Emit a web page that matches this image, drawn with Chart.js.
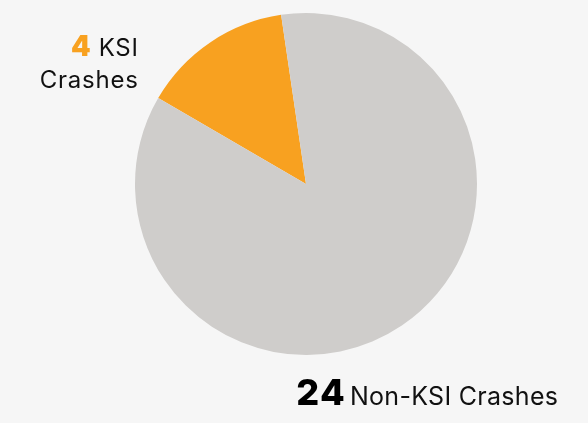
<!DOCTYPE html>
<html>
<head>
<meta charset="utf-8">
<script src="https://cdn.jsdelivr.net/npm/chart.js@4"></script>
<style>
  html, body { margin: 0; padding: 0; background: #f6f6f6; }
  #wrap { width: 588px; height: 423px; }
</style>
</head>
<body>
<div id="wrap"><canvas id="chart" width="588" height="423"></canvas></div>
<script>
// chart data
const categories = ['KSI Crashes', 'Non-KSI Crashes'];
const crashCounts = [4, 24];
const sliceColors = ['#f8a120', '#cfcdcb'];

// label pieces: bold number + regular text
const numberLabels = ['4', '24'];
const textLines = [['KSI', 'Crashes'], ['Non-KSI Crashes']];

const FONT = 'Inter, "Noto Sans", sans-serif';

// draws one piece of text right-aligned at x, returns its left edge
function putRight(ctx, str, x, y, font, color, spacing) {
  ctx.font = font;
  ctx.letterSpacing = spacing + 'px';
  const w = ctx.measureText(str).width - spacing;
  ctx.fillStyle = color;
  ctx.fillText(str, x - w, y);
  return x - w;
}

// draws the two callout labels
const calloutLabels = {
  id: 'calloutLabels',
  afterDraw(chart) {
    const ctx = chart.ctx;
    ctx.save();
    ctx.textBaseline = 'alphabetic';
    ctx.textAlign = 'left';

    // top-left label
    let left = putRight(ctx, textLines[0][0], 138, 56, '400 24px ' + FONT, '#111', 0.8);
    putRight(ctx, numberLabels[0], left - 8, 56, '900 28px ' + FONT, sliceColors[0], 0);
    putRight(ctx, textLines[0][1], 138, 88, '400 24px ' + FONT, '#111', 0.8);

    // bottom-right label
    left = putRight(ctx, textLines[1][0], 558, 405, '400 25px ' + FONT, '#111', 0.3);
    putRight(ctx, numberLabels[1], left - 5, 405, '800 36px ' + FONT, '#000', 1.5);
    ctx.restore();
  }
};

new Chart(document.getElementById('chart').getContext('2d'), {
  type: 'pie',
  data: {
    labels: categories,
    datasets: [{
      data: crashCounts,
      backgroundColor: sliceColors,
      borderWidth: 0
    }]
  },
  options: {
    responsive: false,
    animation: false,
    rotation: -59.8,
    layout: { padding: { top: 13, bottom: 68, left: 24, right: 0 } },
    plugins: {
      legend: { display: false },
      tooltip: { enabled: false }
    }
  },
  plugins: [calloutLabels]
});
</script>
</body>
</html>
